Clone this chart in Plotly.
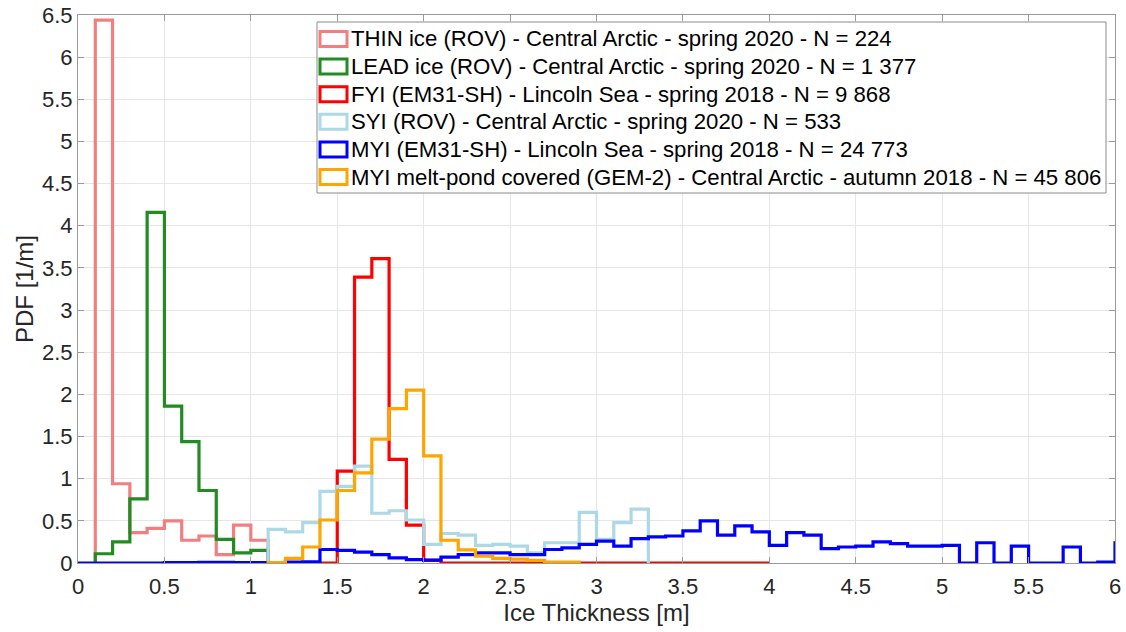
import plotly.graph_objects as go

# Ice-thickness PDFs, 0.1 m bins. Each series: first bin edge + PDF per bin [1/m]
BIN_WIDTH = 0.1

thin_start = 0.1
thin_pdf = [6.44, 0.94, 0.36, 0.41, 0.50, 0.27, 0.32, 0.10, 0.45, 0.27]

lead_start = 0.1
lead_pdf = [0.11, 0.25, 0.76, 4.16, 1.86, 1.44, 0.86, 0.28, 0.12, 0.15]

fyi_start = 1.3
fyi_pdf = [0.0, 0.0, 1.09, 3.39, 3.61, 1.23, 0.45, 0.03,
           0.0, 0.0, 0.0, 0.0, 0.0, 0.0, 0.0, 0.0, 0.0, 0.0,
           0.0, 0.0, 0.0, 0.0, 0.0, 0.0, 0.0, 0.0, 0.0]

syi_start = 1.1
syi_pdf = [0.40, 0.37, 0.48, 0.85, 0.91, 1.15, 0.59, 0.62, 0.51, 0.22,
           0.35, 0.33, 0.21, 0.22, 0.20, 0.12, 0.24, 0.24, 0.60, 0.28,
           0.48, 0.64]

myi_start = 0.0
myi_pdf = [0.0, 0.0, 0.0, 0.0, 0.0, 0.005, 0.005, 0.008, 0.008, 0.005,
           0.005, 0.005, 0.01, 0.015, 0.16, 0.15, 0.13, 0.10, 0.06, 0.04,
           0.035, 0.07, 0.10, 0.12, 0.12, 0.10, 0.10, 0.16, 0.18, 0.22,
           0.26, 0.20, 0.29, 0.31, 0.32, 0.38, 0.50, 0.33, 0.44, 0.37,
           0.21, 0.36, 0.33, 0.17, 0.19, 0.20, 0.25, 0.23, 0.20, 0.20,
           0.21, 0.0, 0.24, 0.0, 0.20, 0.0, 0.0, 0.19, 0.0, 0.01,
           0.24]

pond_start = 1.1
pond_pdf = [0.005, 0.055, 0.19, 0.51, 0.86, 1.07, 1.47, 1.83, 2.05, 1.27,
            0.27, 0.155, 0.08, 0.055, 0.045, 0.03, 0.01, 0.01]

series_labels = [
    "THIN ice (ROV) - Central Arctic - spring 2020 - N = 224",
    "LEAD ice (ROV) - Central Arctic - spring 2020 - N = 1 377",
    "FYI (EM31-SH) - Lincoln Sea - spring 2018 - N = 9 868",
    "SYI (ROV) - Central Arctic - spring 2020 - N = 533",
    "MYI (EM31-SH) - Lincoln Sea - spring 2018 - N = 24 773",
    "MYI melt-pond covered (GEM-2) - Central Arctic - autumn 2018 - N = 45 806",
]
series_colors = ["#F08080", "#228B22", "#FF0000", "#ADD8E6", "#0000FF", "#FFA500"]
series_data = [
    (thin_start, thin_pdf),
    (lead_start, lead_pdf),
    (fyi_start, fyi_pdf),
    (syi_start, syi_pdf),
    (myi_start, myi_pdf),
    (pond_start, pond_pdf),
]

x_ticks = [i * 0.5 for i in range(13)]
y_ticks = [i * 0.5 for i in range(14)]

FONT = "Liberation Sans, Arial, Helvetica, sans-serif"
TEXT = "#262626"
AXIS = "#9a9a9a"
GRID = "#e6e6e6"


def stairs(start, values):
    """Outline of a histogram: rises from 0 at the first edge, back to 0 at the last."""
    n = len(values)
    edges = [round(start + i * BIN_WIDTH, 6) for i in range(n + 1)]
    xs = [edges[0]] + edges[:n] + [edges[n]]
    ys = [0.0] + list(values) + [0.0]
    return xs, ys


fig = go.Figure()
for label, color, (start, pdf) in zip(series_labels, series_colors, series_data):
    xs, ys = stairs(start, pdf)
    fig.add_trace(go.Scatter(
        x=xs, y=ys, mode="lines", name=label,
        line=dict(color=color, width=3.2, shape="hv"),
        showlegend=False, hoverinfo="skip",
    ))

# Figure geometry (px)
W, H = 1126, 632
ML, MR, MT, MB = 78, 11, 15, 69
PW, PH = W - ML - MR, H - MT - MB


def paper_x(px):
    return (px - ML) / PW


def paper_y(py):
    return (H - MB - py) / PH


# Boxed legend with outlined swatches
shapes = [dict(
    type="rect", xref="paper", yref="paper", layer="above",
    x0=paper_x(317), x1=paper_x(1106), y0=paper_y(193), y1=paper_y(22),
    line=dict(color="#8a8a8a", width=1), fillcolor="white",
)]
annotations = []
row0, row_step = 39.0, 27.6
for i, (label, color) in enumerate(zip(series_labels, series_colors)):
    cy = row0 + i * row_step
    shapes.append(dict(
        type="rect", xref="paper", yref="paper", layer="above",
        x0=paper_x(320), x1=paper_x(347), y0=paper_y(cy + 7.5), y1=paper_y(cy - 7.5),
        line=dict(color=color, width=3), fillcolor="white",
    ))
    annotations.append(dict(
        xref="paper", yref="paper", x=paper_x(349), y=paper_y(cy),
        xanchor="left", yanchor="middle", showarrow=False,
        text=label, font=dict(family=FONT, size=22.2, color="#000000"),
    ))

axis_common = dict(
    showgrid=True, gridcolor=GRID, gridwidth=1,
    zeroline=False, showline=True, linecolor=AXIS, linewidth=1,
    mirror="ticks", ticks="inside", ticklen=6, tickcolor=AXIS,
    tickfont=dict(family=FONT, size=22, color=TEXT),
)

fig.update_layout(
    width=W, height=H,
    margin=dict(l=ML, r=MR, t=MT, b=MB, autoexpand=False),
    paper_bgcolor="white", plot_bgcolor="white",
    font=dict(family=FONT, color=TEXT),
    shapes=shapes, annotations=annotations,
    xaxis=dict(
        range=[0, 6], tickmode="array", tickvals=x_ticks,
        ticktext=[f"{v:g}" for v in x_ticks], ticklabelstandoff=4,
        title=dict(text="Ice Thickness [m]", font=dict(family=FONT, size=24, color=TEXT), standoff=5),
        **axis_common,
    ),
    yaxis=dict(
        range=[0, 6.5], tickmode="array", tickvals=y_ticks,
        ticktext=[f"{v:g}" for v in y_ticks],
        title=dict(text="PDF [1/m]", font=dict(family=FONT, size=24, color=TEXT), standoff=1),
        **axis_common,
    ),
    showlegend=False,
)

fig.write_html("out.html")
